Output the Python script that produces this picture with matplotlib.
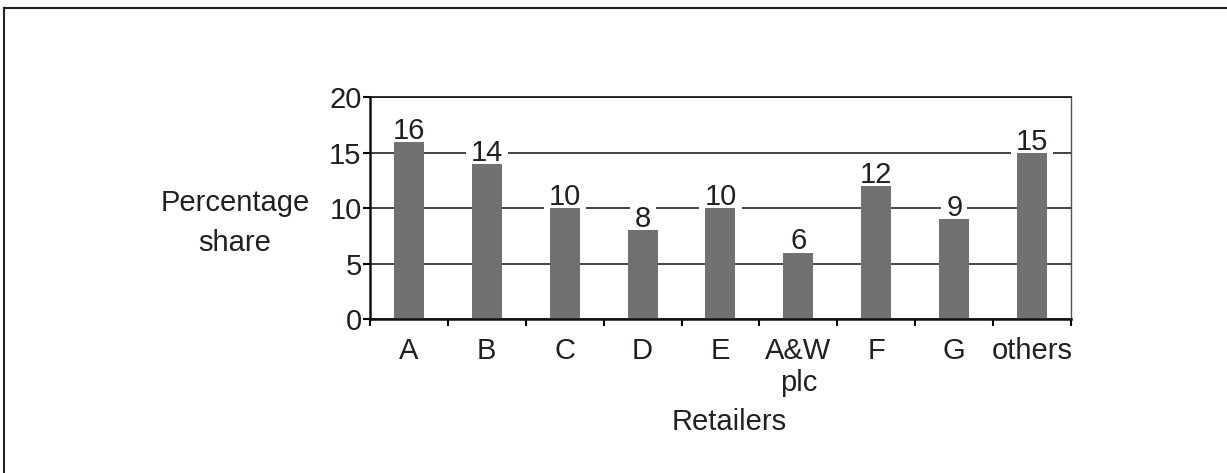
import matplotlib.pyplot as plt
from matplotlib.lines import Line2D

plt.rcParams['font.family'] = ['Liberation Sans', 'DejaVu Sans']

# Datos
retailers = ['A', 'B', 'C', 'D', 'E', 'A&W\nplc', 'F', 'G', 'others']
share = [16, 14, 10, 8, 10, 6, 12, 9, 15]
yticks = [0, 5, 10, 15, 20]

fs = 21
fig = plt.figure(figsize=(12.27, 4.73), dpi=100)
ax = fig.add_axes([0.3015, 0.3256, 0.5714, 0.4683])

x = list(range(len(retailers)))
ax.bar(x, share, width=0.385, color='#717171', zorder=2)

# etiquetas de valor con fondo blanco (tapan la rejilla, no las barras)
for xi, v in zip(x, share):
    ax.text(xi, v + 0.28, str(v), ha='center', va='baseline', fontsize=fs,
            color='#231f20', zorder=1.5,
            bbox=dict(facecolor='white', edgecolor='none', pad=3.5))

ax.set_xlim(-0.5, len(retailers) - 0.5)
ax.set_ylim(0, 20)
ax.set_yticks(yticks)
ax.set_xticks(x)
ax.set_xticklabels(retailers, fontsize=fs, color='#231f20', linespacing=1.2)
ax.set_xticks([i - 0.5 for i in range(len(retailers) + 1)], minor=True)
ax.tick_params(axis='x', which='major', length=0, pad=13)
ax.tick_params(axis='x', which='minor', length=5, width=1.5, direction='out')
ax.tick_params(axis='y', length=5, width=1.5, direction='out', labelsize=fs,
               labelcolor='#231f20', pad=1)

ax.grid(axis='y', color='#111111', linewidth=1.1)
ax.set_axisbelow(True)

for s in ['left', 'bottom']:
    ax.spines[s].set_linewidth(1.8)
    ax.spines[s].set_color('#111111')
ax.spines['top'].set_linewidth(1.2)
ax.spines['top'].set_color('#111111')
ax.spines['right'].set_linewidth(1.0)
ax.spines['right'].set_color('#555555')

fig.text(235 / 1227, 1 - 223 / 473, 'Percentage\nshare', ha='center', va='center',
         fontsize=fs, color='#231f20', linespacing=1.55)
fig.text(729 / 1227, 1 - 422 / 473, 'Retailers', ha='center', va='center',
         fontsize=fs, color='#231f20')

# marco de la imagen (solo arriba e izquierda)
fig.add_artist(Line2D([4 / 1227, 1], [1 - 8 / 473, 1 - 8 / 473], color='#222222',
                      linewidth=1.5, transform=fig.transFigure))
fig.add_artist(Line2D([4 / 1227, 4 / 1227], [0, 1 - 8 / 473], color='#222222',
                      linewidth=1.5, transform=fig.transFigure))

fig.savefig('out.png', dpi=100)
